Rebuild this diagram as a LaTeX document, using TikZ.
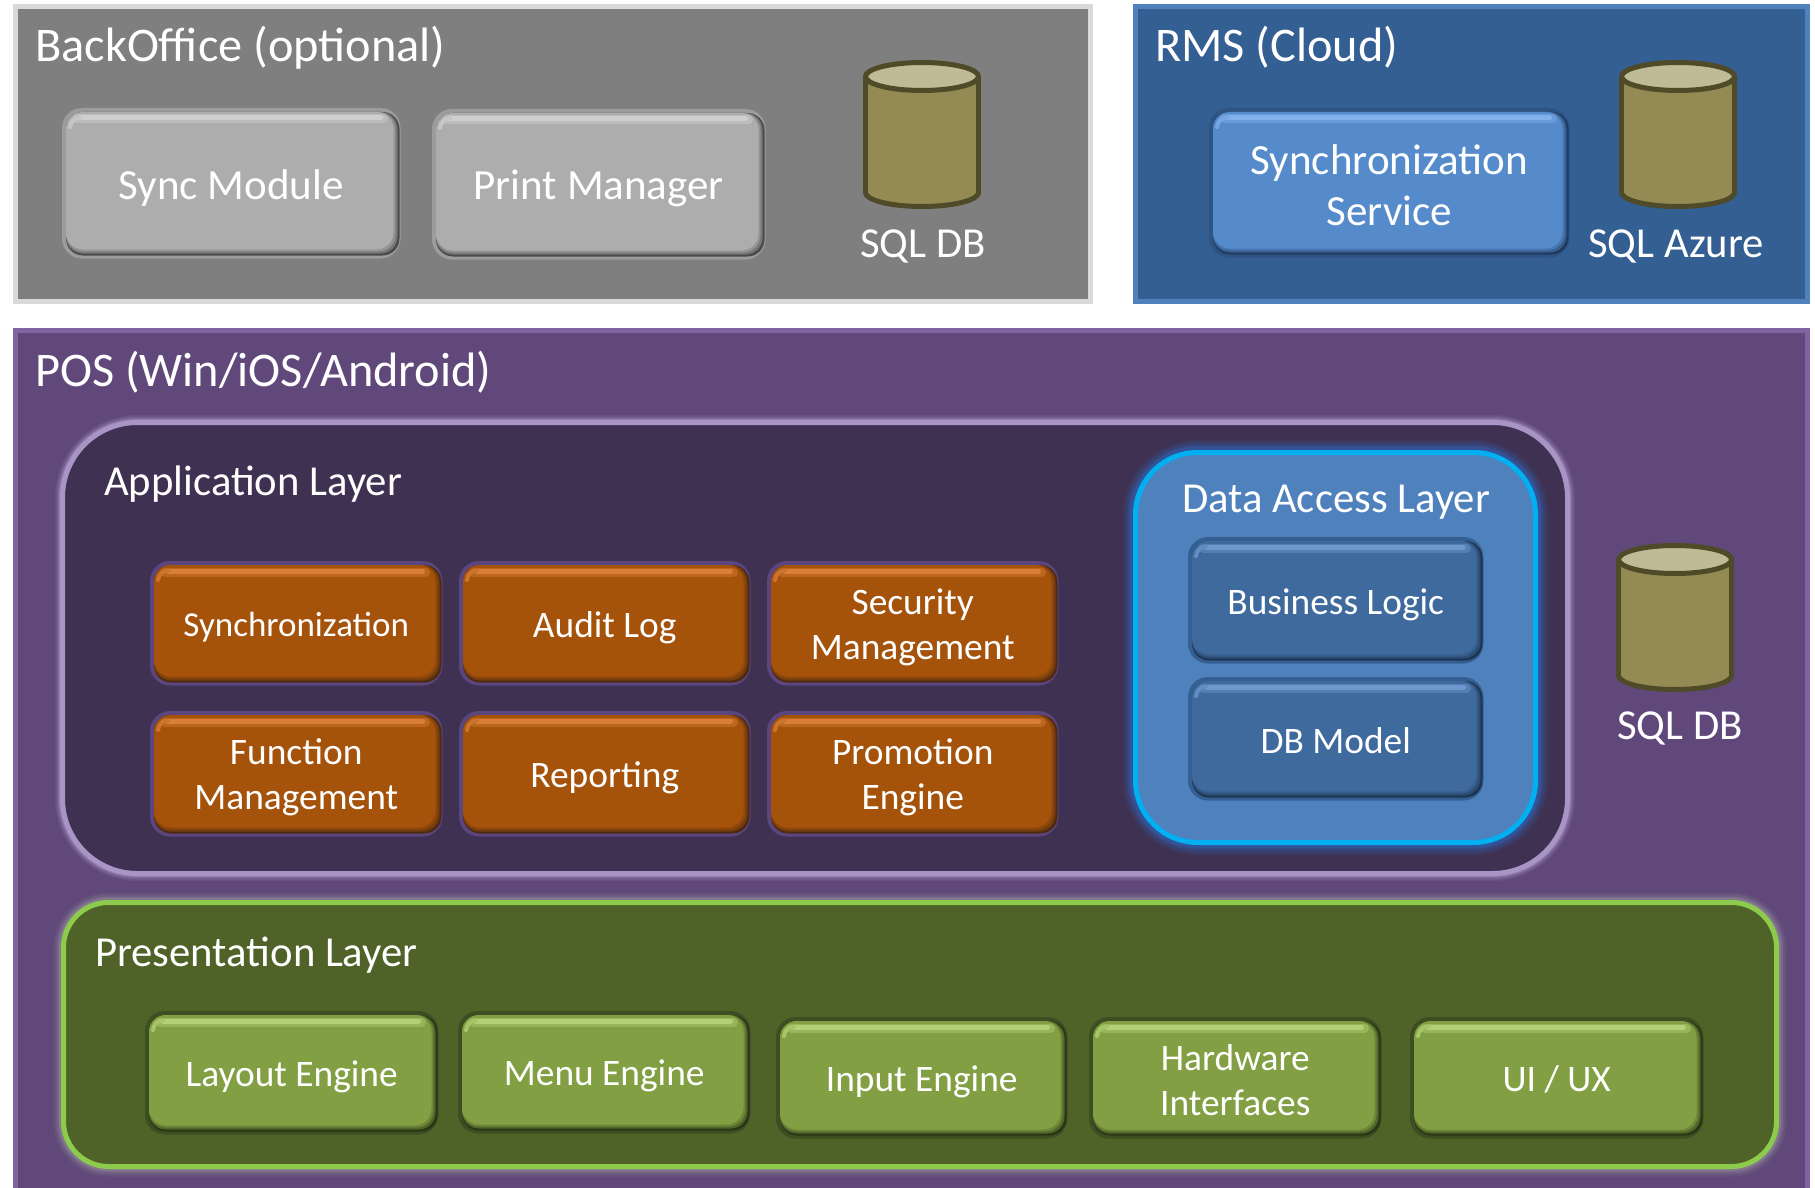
\documentclass[tikz,border=0pt]{standalone}
\usepackage{fontspec}
\setmainfont{Carlito}
\usetikzlibrary{calc}
\definecolor{gryfill}{HTML}{ADADAD}\definecolor{gryhi}{HTML}{CFCFCF}\definecolor{grydark}{HTML}{4A4A4A}\definecolor{gryring}{HTML}{9C9C9C}
\definecolor{blufill}{HTML}{558ACB}\definecolor{bluhi}{HTML}{82B0EA}\definecolor{bludark}{HTML}{1F3A5E}\definecolor{bluring}{HTML}{2E5484}
\definecolor{dblfill}{HTML}{3E6A9E}\definecolor{dblhi}{HTML}{6D98CE}\definecolor{dbldark}{HTML}{1E3552}\definecolor{dblring}{HTML}{345F92}
\definecolor{orgfill}{HTML}{A5520A}\definecolor{orghi}{HTML}{D97F38}\definecolor{orgdark}{HTML}{4E2A10}\definecolor{orgring}{HTML}{5B4680}
\definecolor{grnfill}{HTML}{82A043}\definecolor{grnhi}{HTML}{B2D074}\definecolor{grndark}{HTML}{2A3616}\definecolor{grnring}{HTML}{3D4E22}
\definecolor{cylline}{HTML}{4F4A27}\definecolor{cylbody}{HTML}{948A54}\definecolor{cyltop}{HTML}{BFBB97}
\definecolor{cbackl}{HTML}{D9D9D9}\definecolor{cbackf}{HTML}{7F7F7F}
\definecolor{crmsl}{HTML}{4F81BD}\definecolor{crmsf}{HTML}{345F92}
\definecolor{cposl}{HTML}{8064A2}\definecolor{cposf}{HTML}{60497A}
\definecolor{cappl}{HTML}{A994C6}\definecolor{cappf}{HTML}{3F3151}\definecolor{cappg}{HTML}{B9A6D6}
\definecolor{cdall}{HTML}{00B0F0}\definecolor{cdalf}{HTML}{4F81BD}\definecolor{cdalg}{HTML}{2D6FD0}
\definecolor{cprel}{HTML}{8CCB4B}\definecolor{cpref}{HTML}{4F6228}\definecolor{cpreg}{HTML}{A0A0A0}
\newcommand{\dn}[2][4pt]{\raisebox{-#1}[\height][\depth]{#2}}
\tikzset{
  lbl/.style={text=white,align=center,inner sep=0pt,font=\fontsize{37.4}{45}\selectfont},
  big/.style={lbl,font=\fontsize{48.3}{56}\selectfont},
  mid/.style={lbl,font=\fontsize{42.7}{51}\selectfont},
  bevel/.style={rectangle,rounded corners=20pt,inner sep=0pt,fill=#1ring,lbl,
    path picture={
      \coordinate (pa) at (path picture bounding box.north west);
      \coordinate (pb) at (path picture bounding box.south east);
      \fill[#1dark,rounded corners=17pt] ($(pa)+(4,4)$) rectangle ($(pb)+(-1,-3)$);
      \fill[#1dark!55!#1fill,rounded corners=17pt] ($(pa)+(4,4)$) rectangle ($(pb)+(-3,-5)$);
      \fill[#1dark!25!#1fill,rounded corners=17pt] ($(pa)+(4,4)$) rectangle ($(pb)+(-5,-7)$);
      \fill[#1fill,rounded corners=17pt] ($(pa)+(4,4)$) rectangle ($(pb)+(-7,-9)$);
      \draw[#1hi!45!#1fill,line width=9pt,line cap=round] ($(pa)+(15,11)$) -- ($(pb|-pa)+(-17,11)$);
      \draw[#1hi,line width=5pt,line cap=round] ($(pa)+(18,10)$) -- ($(pb|-pa)+(-20,10)$);
      \draw[#1hi!75!#1fill,line width=4pt,line cap=round] ($(pa)+(8,19)$) .. controls ($(pa)+(9,13)$) and ($(pa)+(12,10)$) .. ($(pa)+(18,9.5)$);
    }},
  glassy/.style={bevel=#1,font=\fontsize{43}{51}\selectfont},
  panel/.style 2 args={rectangle,inner sep=0pt,draw=#1,fill=#2,line width=5pt},
  layer/.style n args={5}{rectangle,inner sep=0pt,draw=#1,fill=#2,line width=5pt,rounded corners=#4pt,
    preaction={draw=#3,opacity=.10,line width={#5*1pt}},
    preaction={draw=#3,opacity=.15,line width={#5*.8pt}},
    preaction={draw=#3,opacity=.2,line width={#5*.6pt}},
    preaction={draw=#3,opacity=.3,line width={#5*.45pt}}},
  cylstroke/.style={draw=cylline,line width=5pt},
}
\newcommand{\boxat}[6]{%
  \node[#1,minimum width={(#4-#2)*1pt},minimum height={(#5-#3)*1pt}] (#6) at ({(#2+#4)/2},{(#3+#5)/2})}
\newcommand{\btnat}[6]{\boxat{#1}{#2}{#3}{#4+1.5}{#5+1.5}{#6}}
\newcommand{\cyl}[2]{% centre x, top y of outer edge
  \path[fill=cylbody,cylstroke] (#1,#2+132.5) ellipse [x radius=56.5pt,y radius=14pt];
  \fill[cylbody] (#1-56.5,#2+16.5) rectangle (#1+56.5,#2+132.5);
  \draw[cylstroke] (#1-56.5,#2+16.5) -- (#1-56.5,#2+132.5) (#1+56.5,#2+16.5) -- (#1+56.5,#2+132.5);
  \path[fill=cyltop,cylstroke] (#1,#2+16.5) ellipse [x radius=56.5pt,y radius=14pt];
}
\begin{document}
\begin{tikzpicture}[x=1pt,y=-1pt]
\useasboundingbox (0,0) rectangle (1815,1188);
\clip (0,0) rectangle (1815,1188);
\fill[white] (0,0) rectangle (1815,1188);
% panels
\boxat{panel={cbackl}{cbackf}}{15.5}{6.5}{1090.5}{301.5}{backoffice} {};
\boxat{panel={crmsl}{crmsf}}{1135.5}{6.5}{1807.5}{301.5}{rms} {};
\boxat{panel={cposl}{cposf}}{15.5}{330.5}{1807.5}{1200}{pos} {};
\node[big,anchor=west] (tback) at (35,48) {BackOffice (optional)};
\node[big,anchor=west] (trms) at (1155,47) {RMS (Cloud)};
\node[big,anchor=west] (tpos) at (35,372) {POS (Win/iOS/Android)};
% BackOffice
\btnat{glassy=gry}{62}{108}{399}{257}{sync} {\dn[5pt]{Sync Module}};
\btnat{glassy=gry}{432}{109}{764}{258}{print} {\dn[4pt]{Print Manager}};
\cyl{922}{60}
\node[mid] (sqlb) at (923,246) {SQL DB};
% RMS
\btnat{glassy=blu}{1209}{108}{1568}{256}{syncsvc} {\dn[2pt]{Synchronization}\\\dn[2pt]{Service}};
\cyl{1678}{60}
\node[mid] (sqla) at (1676,246) {SQL Azure};
% Application layer
\boxat{layer={cappl}{cappf}{cappg}{75}{15}}{62.5}{422.5}{1567.5}{873.5}{app} {};
\node[mid,anchor=west] (tapp) at (104,484) {Application Layer};
\btnat{bevel=org}{150}{561}{441}{684}{s1} {\fontsize{35}{45}\selectfont\dn[4pt]{Synchronization}};
\btnat{bevel=org}{459}{561}{749}{684}{s2} {\dn{Audit Log}};
\btnat{bevel=org}{767}{561}{1057}{684}{s3} {\dn{Security}\\\dn{Management}};
\btnat{bevel=org}{150}{711}{441}{835}{s4} {\dn{Function}\\\dn{Management}};
\btnat{bevel=org}{459}{711}{749}{835}{s5} {\dn{Reporting}};
\btnat{bevel=org}{767}{711}{1057}{835}{s6} {\dn{Promotion}\\\dn{Engine}};
% Data access
\boxat{layer={cdall}{cdalf}{cdalg}{62}{26}}{1135.5}{452.5}{1535.5}{842.5}{dal} {};
\node[mid] (tdal) at (1336,502) {Data Access Layer};
\btnat{bevel=dbl}{1188}{537}{1482}{662}{logic} {\dn[4.5pt]{Business Logic}};
\btnat{bevel=dbl}{1188}{677}{1482}{799}{model} {\dn[1.5pt]{DB Model}};
\cyl{1675}{543}
\node[mid] (sqlp) at (1680,728) {SQL DB};
% Presentation
\boxat{layer={cprel}{cpref}{cpreg}{45}{20}}{63.5}{902.5}{1776.5}{1166.5}{pres} {};
\node[mid,anchor=west] (tpres) at (95,955) {Presentation Layer};
\btnat{bevel=grn}{145}{1011}{437}{1133}{p1} {\dn{Layout Engine}};
\btnat{bevel=grn}{458}{1011}{749}{1132}{p2} {\dn{Menu Engine}};
\btnat{bevel=grn}{776}{1017}{1066}{1137}{p3} {\dn{Input Engine}};
\btnat{bevel=grn}{1089}{1017}{1380}{1137}{p4} {\dn[2pt]{Hardware}\\\dn[2pt]{Interfaces}};
\btnat{bevel=grn}{1410}{1017}{1702}{1137}{p5} {\dn[2pt]{UI / UX}};
\end{tikzpicture}
\end{document}
